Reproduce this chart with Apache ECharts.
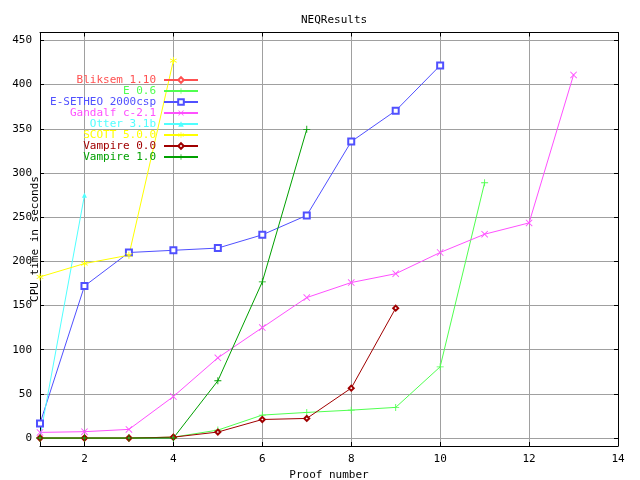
<!DOCTYPE html>
<html>
<head>
<meta charset="utf-8">
<script src="https://cdn.jsdelivr.net/npm/echarts@6/dist/echarts.min.js"></script>
<style>html,body{margin:0;padding:0;background:#fff;}#c{width:640px;height:480px;}</style>
</head>
<body>
<div id="c"></div>
<script>
// ---- data ----
const chartTitle = 'NEQResults';
const xName = 'Proof number';
const yName = 'CPU time in seconds';
const xTicks = [2, 4, 6, 8, 10, 12, 14];
const yTicks = [0, 50, 100, 150, 200, 250, 300, 350, 400, 450];
const seriesNames = ['Bliksem 1.10', 'E 0.6', 'E-SETHEO 2000csp', 'Gandalf c-2.1', 'Otter 3.1b', 'SCOTT 5.0.0', 'Vampire 0.0', 'Vampire 1.0'];
const bliksem = [0, 0, 0, 1];
const e06 = [0, 0, 0, 1, 9, 26, 29, 31.6, 34.7, 80.6, 289];
const esetheo = [16.6, 172, 210, 212.5, 215, 230, 252, 335.5, 370.5, 421.7];
const gandalf = [6.4, 7.2, 9.8, 47, 90.8, 125, 159, 176, 186, 210, 230.7, 243.5, 411];
const otter = [1, 274.8];
const scott = [182.4, 197.5, 207, 427.2];
const vampire00 = [0, 0, 0, 1, 6.8, 21, 22.2, 56.5, 147];
const vampire10 = [0, 0, 0, 0, 64.8, 176.8, 349.4];

const allValues = [bliksem, e06, esetheo, gandalf, otter, scott, vampire00, vampire10];
const colors = ['#ff5050', '#50ff50', '#5050ff', '#ff50ff', '#50ffff', '#ffff00', '#a00000', '#00a000'];
const PLUS = 'path://M3.5,0H4.5V3.5H8V4.5H4.5V8H3.5V4.5H0V3.5H3.5Z';
const CROSS = 'path://M0,0.7L0.7,0L4,3.3L7.3,0L8,0.7L4.7,4L8,7.3L7.3,8L4,4.7L0.7,8L0,7.3L3.3,4Z';
const STAR = 'path://M3.5,0H4.5V3.3L7.2,1.6L7.7,2.4L5,4L7.7,5.6L7.2,6.4L4.5,4.7V8H3.5V4.7L0.8,6.4L0.3,5.6L3,4L0.3,2.4L0.8,1.6L3.5,3.3Z';
const symbols = ['emptyDiamond', PLUS, 'emptyRect', CROSS, 'triangle', STAR, 'emptyDiamond', PLUS];
const sizes = [5, 7, 6, 7, 5, 7, 5, 7];
const borders = [1, 0, 1, 0, 0, 0, 1, 0];

const FONT = 'DejaVu Sans Mono';
const chart = echarts.init(document.getElementById('c'), null, {renderer: 'canvas'});

const series = allValues.map((vals, i) => ({
  name: seriesNames[i],
  type: 'line',
  xAxisIndex: 0,
  yAxisIndex: 0,
  data: vals.map((v, j) => [j + 1, v]),
  symbol: symbols[i],
  symbolSize: sizes[i],
  showAllSymbol: true,
  animation: false,
  lineStyle: {color: colors[i], width: 1},
  itemStyle: {color: colors[i], borderColor: colors[i], borderWidth: borders[i]},
  emphasis: {disabled: true}
}));

const legends = seriesNames.map((n, i) => ({
  data: [n],
  right: 441,
  top: 74.5 + i * 11,
  orient: 'vertical',
  align: 'right',
  itemWidth: 34,
  itemHeight: 7,
  itemGap: 0,
  padding: 0,
  selectedMode: false,
  textStyle: {fontFamily: FONT, fontSize: 11, color: colors[i], padding: [0, 3, 0, 0], lineHeight: 11}
}));

const gridColor = '#a0a0a0';
const option = {
  backgroundColor: '#ffffff',
  animation: false,
  title: {
    text: chartTitle, left: 296, top: 10,
    textStyle: {fontFamily: FONT, fontSize: 11, fontWeight: 'normal', color: '#000'}
  },
  legend: legends,
  graphic: [{
    type: 'text', x: 35, y: 239, rotation: Math.PI / 2, z: 100,
    style: {text: yName, fontFamily: FONT, fontSize: 11, fill: '#000', align: 'center', verticalAlign: 'middle'}
  }],
  grid: {left: 40, right: 22, top: 32.5, bottom: 34, containLabel: false, outerBoundsMode: 'none'},
  xAxis: [{
    type: 'value', min: 1, max: 14, position: 'bottom',
    name: xName, nameLocation: 'middle', nameGap: 20,
    nameTextStyle: {fontFamily: FONT, fontSize: 11, color: '#000'},
    axisLine: {show: true, onZero: false, lineStyle: {color: '#000', width: 1}},
    axisTick: {show: true, inside: true, length: 4, lineStyle: {color: '#000'}, customValues: xTicks},
    axisLabel: {fontFamily: FONT, fontSize: 11, color: '#000', margin: 8, customValues: xTicks},
    splitLine: {show: true, lineStyle: {color: gridColor, width: 1}}
  }, {
    type: 'value', min: 1, max: 14, position: 'top',
    axisLine: {show: true, onZero: false, lineStyle: {color: '#000', width: 1}},
    axisTick: {show: true, inside: true, length: 4, lineStyle: {color: '#000'}, customValues: xTicks},
    axisLabel: {show: false, customValues: xTicks},
    splitLine: {show: false}
  }],
  yAxis: [{
    type: 'value', min: -9, max: 459, position: 'left',
    axisLine: {show: true, onZero: false, lineStyle: {color: '#000', width: 1}},
    axisTick: {show: true, inside: true, length: 4, lineStyle: {color: '#000'}, customValues: yTicks},
    axisLabel: {fontFamily: FONT, fontSize: 11, color: '#000', margin: 8, customValues: yTicks},
    splitLine: {show: true, lineStyle: {color: gridColor, width: 1}}
  }, {
    type: 'value', min: -9, max: 459, position: 'right',
    axisLine: {show: true, onZero: false, lineStyle: {color: '#000', width: 1}},
    axisTick: {show: true, inside: true, length: 4, lineStyle: {color: '#000'}, customValues: yTicks},
    axisLabel: {show: false, customValues: yTicks},
    splitLine: {show: false}
  }],
  series: series
};
chart.setOption(option);
</script>
</body>
</html>
